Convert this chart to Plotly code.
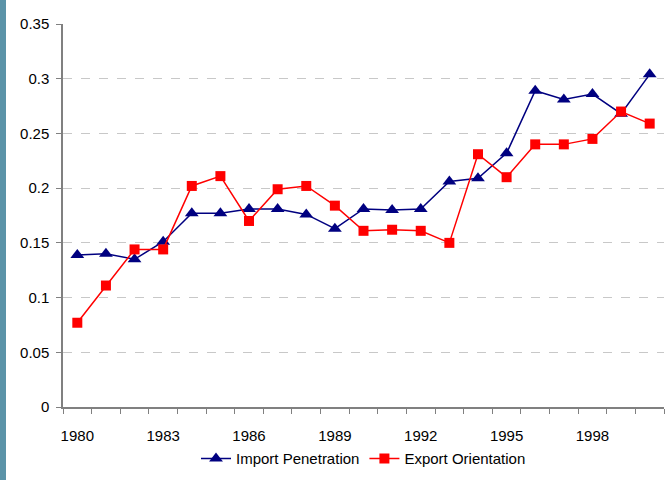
import plotly.graph_objects as go

years = [str(y) for y in range(1980, 2001)]
import_penetration = [0.139, 0.140, 0.135, 0.151, 0.177, 0.177, 0.181, 0.181, 0.176, 0.163,
                      0.181, 0.180, 0.181, 0.206, 0.209, 0.232, 0.289, 0.281, 0.286, 0.268, 0.304]
export_orientation = [0.077, 0.111, 0.144, 0.144, 0.202, 0.211, 0.170, 0.199, 0.202, 0.184,
                      0.161, 0.162, 0.161, 0.150, 0.231, 0.210, 0.240, 0.240, 0.245, 0.270, 0.259]
tick_labels = [y if (int(y) - 1980) % 3 == 0 else "" for y in years]

FONT = "Liberation Sans, Arial, sans-serif"

fig = go.Figure()
fig.add_trace(go.Scatter(
    x=years, y=import_penetration, name="Import Penetration", mode="lines+markers",
    line=dict(color="#000080", width=1.5),
    marker=dict(symbol="triangle-up", size=12, color="#000080"),
))
fig.add_trace(go.Scatter(
    x=years, y=export_orientation, name="Export Orientation", mode="lines+markers",
    line=dict(color="#ff0000", width=1.5),
    marker=dict(symbol="square", size=10, color="#ff0000"),
))

W, H = 668, 480
L, R, T, B = 63, 4, 24, 73
pw = W - L - R
ph = H - T - B

# decorative left strip
fig.add_shape(type="rect", xref="paper", yref="paper",
              x0=(0 - L) / pw, x1=(6 - L) / pw, y0=-B / ph, y1=1 + T / ph,
              fillcolor="#5b93a8", line=dict(width=0), layer="above")

fig.update_layout(
    width=W, height=H,
    margin=dict(l=L, r=R, t=T, b=B, pad=0, autoexpand=False),
    paper_bgcolor="white", plot_bgcolor="white",
    font=dict(family=FONT, size=15, color="black"),
    showlegend=True,
    legend=dict(orientation="h", x=0.5, xanchor="center", y=-0.092, yanchor="top",
                font=dict(size=15), tracegroupgap=0),
    xaxis=dict(
        type="category", tickmode="array", tickvals=years, ticktext=tick_labels,
        tickson="boundaries", ticks="outside", ticklen=5, tickcolor="#808080",
        tickangle=0, automargin=False,
        showline=True, linecolor="#808080", linewidth=1.5, showgrid=False,
        ticklabelstandoff=14, range=[-0.5, 20.5],
    ),
    yaxis=dict(
        range=[0, 0.35], dtick=0.05, tick0=0, automargin=False,
        ticks="outside", ticklen=5, tickcolor="#808080",
        showline=True, linecolor="#808080", linewidth=1.5,
        showgrid=True, gridcolor="#c8c8c8", griddash="dash", gridwidth=1,
        zeroline=False, ticklabelstandoff=4,
    ),
)

fig.write_html("out.html", config={"displayModeBar": False},
               post_script="document.body.style.margin='0';")
